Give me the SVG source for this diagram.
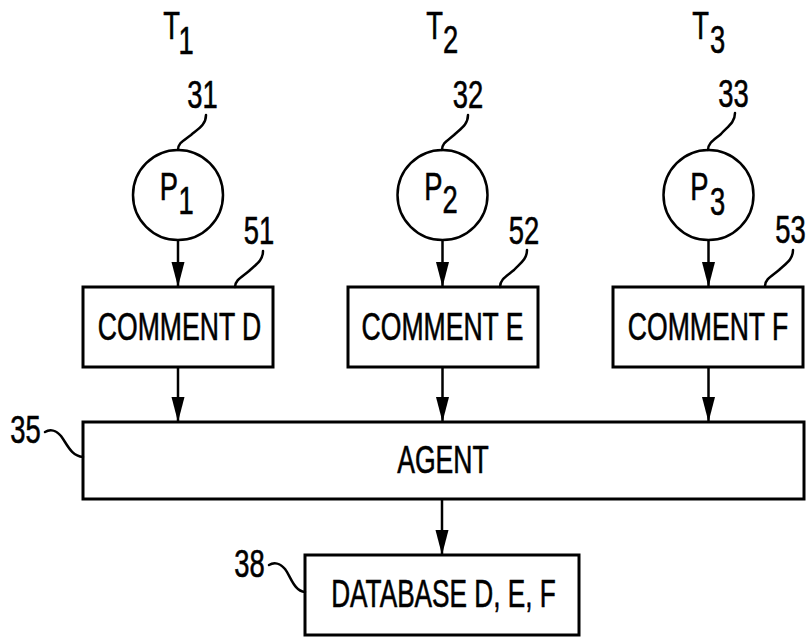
<svg xmlns="http://www.w3.org/2000/svg" width="807" height="638" viewBox="0 0 807 638">
  <style>
    .box { fill: #fff; stroke: #000; stroke-width: 3; }
    .proc { fill: #fff; stroke: #000; stroke-width: 2.5; }
    .lead { fill: none; stroke: #000; stroke-width: 2.5; stroke-linecap: round; }
    .flow { fill: none; stroke: #000; stroke-width: 2.5; }
    text { font-family: "Liberation Sans", Arial, sans-serif; font-size: 38px; fill: #000; stroke: #000; stroke-width: 0.6; text-anchor: middle; }
  </style>
  <defs>
    <marker id="head" markerUnits="userSpaceOnUse" markerWidth="26" markerHeight="14" refX="25" refY="7" orient="auto" viewBox="0 0 26 14">
      <path d="M0,0.5 L25,7 L0,13.5 Z" fill="#000"/>
    </marker>
  </defs>

  <!-- time column headings -->
  <g id="headings">
    <text transform="translate(171.5 39) scale(0.72 1)">T</text>
    <text transform="translate(186 54) scale(0.72 1)">1</text>
    <text transform="translate(434.5 39) scale(0.72 1)">T</text>
    <text transform="translate(450.5 53) scale(0.72 1)">2</text>
    <text transform="translate(700.5 39) scale(0.72 1)">T</text>
    <text transform="translate(717.5 53) scale(0.72 1)">3</text>
  </g>

  <!-- participants -->
  <g id="p1">
    <circle class="proc" cx="178" cy="195" r="45"/>
    <text transform="translate(169 200) scale(0.72 1)">P</text>
    <text transform="translate(186 214) scale(0.72 1)">1</text>
    <path class="lead" d="M206,115 c0,10 -8,14 -15,20 c-8,6 -13,8 -13,15"/>
    <text transform="translate(202.5 108) scale(0.72 1)">31</text>
  </g>
  <g id="p2">
    <circle class="proc" cx="442.5" cy="195" r="45"/>
    <text transform="translate(433.5 200) scale(0.72 1)">P</text>
    <text transform="translate(450 213) scale(0.72 1)">2</text>
    <path class="lead" d="M468,115 c0,10 -8,14 -14,20 c-7,6 -12,8 -12,15"/>
    <text transform="translate(468 108) scale(0.72 1)">32</text>
  </g>
  <g id="p3">
    <circle class="proc" cx="708.5" cy="195" r="45"/>
    <text transform="translate(699.5 200) scale(0.72 1)">P</text>
    <text transform="translate(717.5 215) scale(0.72 1)">3</text>
    <path class="lead" d="M735,113 c0,10 -8,14 -14,21 c-7,6 -13,9 -13,16"/>
    <text transform="translate(733.5 107) scale(0.72 1)">33</text>
  </g>

  <!-- comment boxes -->
  <g id="comment-d">
    <rect class="box" x="83" y="287" width="190" height="80"/>
    <text transform="translate(179.5 340) scale(0.7 1)">COMMENT D</text>
    <path class="lead" d="M263,251 c0,10 -8,14 -14,20 c-7,6 -14,9 -14,16"/>
    <text transform="translate(259 244) scale(0.72 1)">51</text>
  </g>
  <g id="comment-e">
    <rect class="box" x="348" y="287" width="190" height="80"/>
    <text transform="translate(442.5 340) scale(0.7 1)">COMMENT E</text>
    <path class="lead" d="M527,250 c0,10 -8,14 -13,20 c-7,6 -14,9 -14,17"/>
    <text transform="translate(524 244) scale(0.72 1)">52</text>
  </g>
  <g id="comment-f">
    <rect class="box" x="613" y="287" width="190" height="80"/>
    <text transform="translate(708 340) scale(0.7 1)">COMMENT F</text>
    <path class="lead" d="M793,250 c0,10 -8,14 -14,20 c-7,6 -14,9 -14,16"/>
    <text transform="translate(790.5 243) scale(0.72 1)">53</text>
  </g>

  <!-- agent -->
  <g id="agent">
    <rect class="box" x="83" y="422" width="721" height="77"/>
    <text transform="translate(443 473) scale(0.7 1)">AGENT</text>
    <path class="lead" d="M45,432 c5,-3 11,-2 16,4 c6,8 10,20 22,21"/>
    <text transform="translate(25.5 443) scale(0.72 1)">35</text>
  </g>

  <!-- database -->
  <g id="database">
    <rect class="box" x="305" y="555" width="274" height="80"/>
    <text transform="translate(443.5 607) scale(0.69 1)">DATABASE D, E, F</text>
    <path class="lead" d="M269,565 c5,-3 11,-2 16,4 c6,8 9,22 20,23"/>
    <text transform="translate(249.5 577) scale(0.72 1)">38</text>
  </g>

  <!-- flow arrows -->
  <g id="connectors">
    <line class="flow" x1="178" y1="240" x2="178" y2="287" marker-end="url(#head)"/>
    <line class="flow" x1="442.5" y1="240" x2="442.5" y2="287" marker-end="url(#head)"/>
    <line class="flow" x1="708.5" y1="240" x2="708.5" y2="287" marker-end="url(#head)"/>
    <line class="flow" x1="178" y1="367" x2="178" y2="422" marker-end="url(#head)"/>
    <line class="flow" x1="442.5" y1="367" x2="442.5" y2="422" marker-end="url(#head)"/>
    <line class="flow" x1="708.5" y1="367" x2="708.5" y2="422" marker-end="url(#head)"/>
    <line class="flow" x1="442" y1="499" x2="442" y2="555" marker-end="url(#head)"/>
  </g>
</svg>
